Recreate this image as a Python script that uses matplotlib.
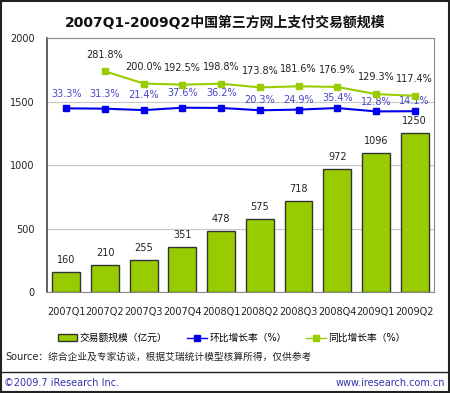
import matplotlib.pyplot as plt
from matplotlib.lines import Line2D
from matplotlib.patches import Patch, Rectangle
import numpy as np

plt.rcParams['font.family'] = ['DejaVu Sans', 'Noto Sans CJK SC']

quarters = ['2007Q1', '2007Q2', '2007Q3', '2007Q4', '2008Q1',
            '2008Q2', '2008Q3', '2008Q4', '2009Q1', '2009Q2']
volume = [160, 210, 255, 351, 478, 575, 718, 972, 1096, 1250]
qoq = [33.3, 31.3, 21.4, 37.6, 36.2, 20.3, 24.9, 35.4, 12.8, 14.1]
yoy = [np.nan, 281.8, 200.0, 192.5, 198.8, 173.8, 181.6, 176.9, 129.3, 117.4]

green = '#99cc00'
blue = '#0000ee'

fig = plt.figure(figsize=(4.5, 3.93), dpi=100)
ax = fig.add_axes([0.1044, 0.257, 0.86, 0.646])
x = np.arange(len(quarters))

# volume bars
ax.bar(x, volume, width=0.72, color=green, edgecolor='#333333', linewidth=1, zorder=3)
for i, v in enumerate(volume):
    ax.annotate(str(v), (x[i], v), xytext=(0, 5), textcoords='offset points',
                ha='center', va='bottom', fontsize=7, color='#222222')

ax.set_ylim(0, 2000)
ax.set_xlim(-0.5, len(quarters) - 0.5)
ax.set_yticks([0, 500, 1000, 1500, 2000])
ax.yaxis.grid(True, color='#c8c8c8', linewidth=0.8, zorder=0)
ax.set_xticks(x)
ax.set_xticklabels(quarters)
ax.tick_params(length=0, labelsize=7, colors='#222222')
ax.tick_params(axis='y', pad=9)
ax.tick_params(axis='x', pad=11)
for s in ax.spines.values():
    s.set_color('#888888')
ax.spines['left'].set_color('#444444')
ax.spines['left'].set_linewidth(1.2)

# growth rates on a hidden second scale
ax2 = ax.twinx()
ax2.set_ylim(-1200, 505)
ax2.set_yticks([])
ax2.plot(x, qoq, color=blue, marker='s', markersize=5, linewidth=1.5, zorder=4)
ax2.plot(x, yoy, color=green, marker='s', markersize=5, linewidth=1.5, zorder=4)
for i, v in enumerate(qoq):
    off = 7 if i < 5 else 3.5
    ax2.annotate(f'{v:.1f}%', (x[i], v), xytext=(0, off), textcoords='offset points',
                 ha='center', va='bottom', fontsize=7, color='#4646c8')
for i, v in enumerate(yoy):
    if np.isnan(v):
        continue
    ax2.annotate(f'{v:.1f}%', (x[i], v), xytext=(0, 8.5), textcoords='offset points',
                 ha='center', va='bottom', fontsize=7, color='#222222')
for s in ax2.spines.values():
    s.set_visible(False)

fig.suptitle('2007Q1-2009Q2中国第三方网上支付交易额规模', y=0.96, fontsize=10,
             fontweight='bold', color='#111111')

handles = [Patch(facecolor=green, edgecolor='#333333', linewidth=1),
           Line2D([], [], color=blue, marker='s', markersize=5, linewidth=1),
           Line2D([], [], color=green, marker='s', markersize=5, linewidth=1)]
labels = ['交易额规模（亿元）', '环比增长率（%）', '同比增长率（%）']
fig.legend(handles, labels, loc='center', bbox_to_anchor=(0.515, 0.14), ncol=3,
           frameon=False, fontsize=7, handlelength=2.0, columnspacing=2.0,
           handletextpad=0.3)

fig.text(0.012, 0.092, 'Source：综合企业及专家访谈，根据艾瑞统计模型核算所得，仅供参考',
         fontsize=7, color='#222222', va='center')
fig.add_artist(Line2D([0.005, 0.995], [0.053, 0.053], color='#222222', linewidth=1))
fig.text(0.01, 0.025, '©2009.7 iResearch Inc.', fontsize=7, color='#3333aa', va='center')
fig.text(0.99, 0.025, 'www.iresearch.com.cn', fontsize=7, color='#3333aa',
         va='center', ha='right')
fig.add_artist(Rectangle((0.002, 0.002), 0.996, 0.996, fill=False,
                         edgecolor='#222222', linewidth=1.5, transform=fig.transFigure))

fig.savefig('out.png', dpi=100)
